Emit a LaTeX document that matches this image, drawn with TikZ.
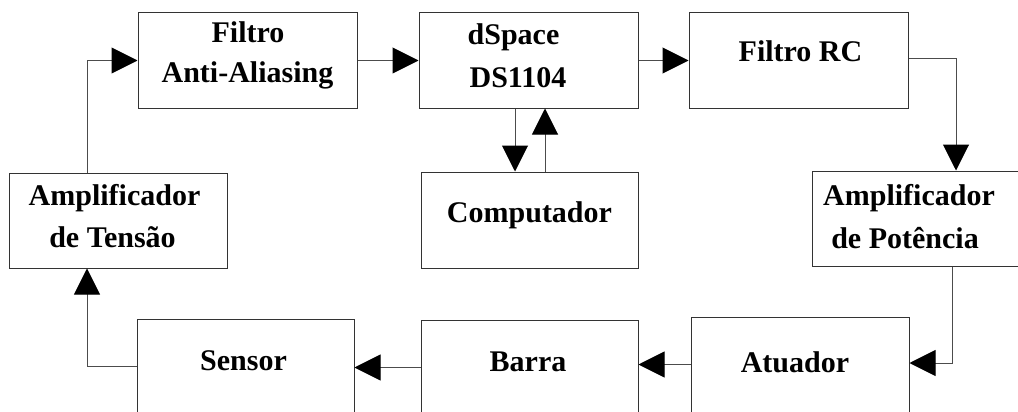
\documentclass[tikz,border=0pt]{standalone}
\usepackage{fontspec}
\setmainfont{Liberation Serif}
\usetikzlibrary{arrows.meta}
\begin{document}
\begin{tikzpicture}[x=1pt,y=-1pt,
  box/.style={draw=black!80,line width=1pt,rectangle,inner sep=0pt,minimum width=219pt,minimum height=95pt},
  lbl/.style={anchor=base,inner sep=0pt,font=\fontsize{30}{36}\selectfont\bfseries},
  conn/.style={draw=black!70,line width=1pt,-{Triangle[length=26pt,width=26pt,color=black,fill=black]}},
  wire/.style={draw=black!70,line width=1pt}]
\clip (0,0) rectangle (1018,412);
\fill[white] (0,0) rectangle (1018,412);
% boxes
\node[box] (aa) at (247.5,60.5) {};
\node[box] (ds) at (528.5,60.5) {};
\node[box] (rc) at (798.5,60.5) {};
\node[box,minimum width=217pt,minimum height=96pt] (comp) at (529.5,220) {};
\node[box] (ampP) at (921.5,218.5) {};
\node[box,minimum width=218pt] (ampT) at (118,220.5) {};
\node[box,minimum width=218pt] (atu) at (800,364.5) {};
\node[box,minimum width=217pt] (barra) at (529.5,367.5) {};
\node[box,minimum width=217pt] (sensor) at (245.5,366.5) {};
% labels
\node[lbl] (t1) at (248,43) {Filtro};
\node[lbl] (t2) at (247.5,82) {Anti-Aliasing};
\node[lbl] (t3) at (513.5,45) {dSpace};
\node[lbl] (t4) at (518,88) {DS1104};
\node[lbl] (t5) at (800.5,62) {Filtro RC};
\node[lbl] (t6) at (529.5,222) {Computador};
\node[lbl] (t7) at (909,205) {Amplificador};
\node[lbl] (t8) at (905,248) {de Potência};
\node[lbl] (t9) at (114.5,205) {Amplificador};
\node[lbl] (t10) at (112.5,247) {de Tensão};
\node[lbl] (t11) at (795,372) {Atuador};
\node[lbl] (t12) at (528,371) {Barra};
\node[lbl] (t13) at (243.5,370) {Sensor};
% connectors
\draw[conn] (aa.east) -- (ds.west);
\draw[conn] (ds.east) -- (rc.west);
\draw[conn] ([yshift=1.5pt]rc.east) -| ([xshift=34.5pt]ampP.north);
\draw[conn] ([xshift=30.5pt]ampP.south) |- ([yshift=1.5pt]atu.east);
\draw[conn] (atu.west) -- (atu.west -| barra.east);
\draw[conn] (barra.west) -- (barra.west -| sensor.east);
\draw[conn] (sensor.west) -| ([xshift=-31pt]ampT.south);
\draw[conn] ([xshift=-31pt]ampT.north) |- (aa.west);
\draw[conn] ([xshift=-13.5pt]ds.south) -- ([xshift=-14.5pt]comp.north);
\draw[conn] ([xshift=15.5pt]comp.north) -- ([xshift=16.5pt]ds.south);
\end{tikzpicture}
\end{document}
